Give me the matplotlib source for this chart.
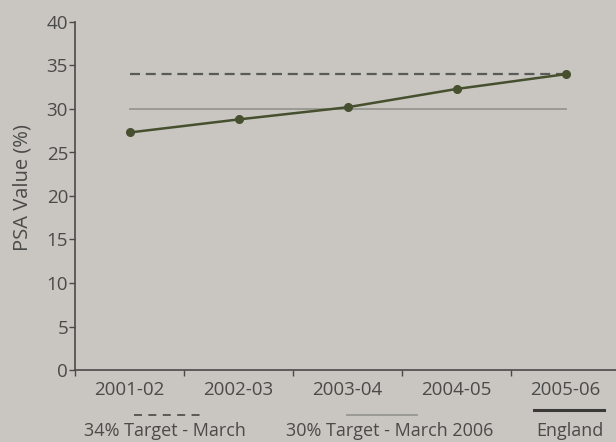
import matplotlib.pyplot as plt
import numpy as np
from matplotlib.lines import Line2D

years = ['2001-02', '2002-03', '2003-04', '2004-05', '2005-06']
england = [27.3, 28.8, 30.2, 32.3, 34.0]
target_2008 = 34
target_2006 = 30

bg = '#c9c6c1'
ink = '#4a4a48'
green = '#46502f'

plt.rcParams['font.family'] = ['Open Sans', 'DejaVu Sans']

W, H = 616, 442
fig = plt.figure(figsize=(W / 100, H / 100), dpi=100, facecolor=bg)
ax = fig.add_axes([75 / W, 72 / H, 545 / W, 348 / H])
ax.set_facecolor(bg)

x = np.arange(len(years))
ax.plot(x, [target_2008] * len(x), color='#5a5a58', lw=1.6, dashes=(4.5, 2.6))
ax.plot(x, [target_2006] * len(x), color='#9a9a94', lw=1.4)
ax.plot(x, england, color=green, lw=1.8, marker='o', ms=5.5,
        markerfacecolor=green, markeredgecolor=green)

ax.set_xlim(-0.5, len(years) - 0.5)
ax.set_ylim(0, 40)
ax.set_yticks(range(0, 41, 5))
ax.set_xticks(np.arange(len(years) + 1) - 0.5)
ax.set_xticklabels([])
ax.set_xticks(x, minor=True)
ax.set_xticklabels(years, minor=True)
ax.tick_params(axis='x', which='minor', length=0, pad=8, labelsize=13.5, labelcolor=ink)
ax.tick_params(axis='x', which='major', length=4, color=ink, width=1)
ax.tick_params(axis='y', length=4, color=ink, width=1, pad=1, labelsize=13.5, labelcolor=ink)

for side in ('top', 'right'):
    ax.spines[side].set_visible(False)
for side in ('left', 'bottom'):
    ax.spines[side].set_color(ink)
    ax.spines[side].set_linewidth(1.2)

fig.text(23 / W, 1 - 188 / H, 'PSA Value (%)', rotation=90, ha='center', va='center',
         fontsize=14.5, color=ink)

# legend entries sit below the axis: short sample line over its label
entries = [
    ('34% Target - March', dict(color='#5a5a58', lw=1.4, dashes=(4.1, 3.3)), 167, 33, 415, 165),
    ('30% Target - March 2006', dict(color='#9a9a94', lw=1.4), 382, 35, 415, 390),
    ('England', dict(color='#3a3a38', lw=2.2), 569, 35, 410, 570),
]
for label, style, lx, half, ly, tx in entries:
    fig.add_artist(Line2D([(lx - half) / W, (lx + half) / W], [1 - ly / H] * 2,
                          transform=fig.transFigure, **style))
    fig.text(tx / W, 1 - 436 / H, label, ha='center', va='baseline',
             fontsize=13, color=ink)

fig.savefig('out.png', dpi=100, facecolor=bg)
